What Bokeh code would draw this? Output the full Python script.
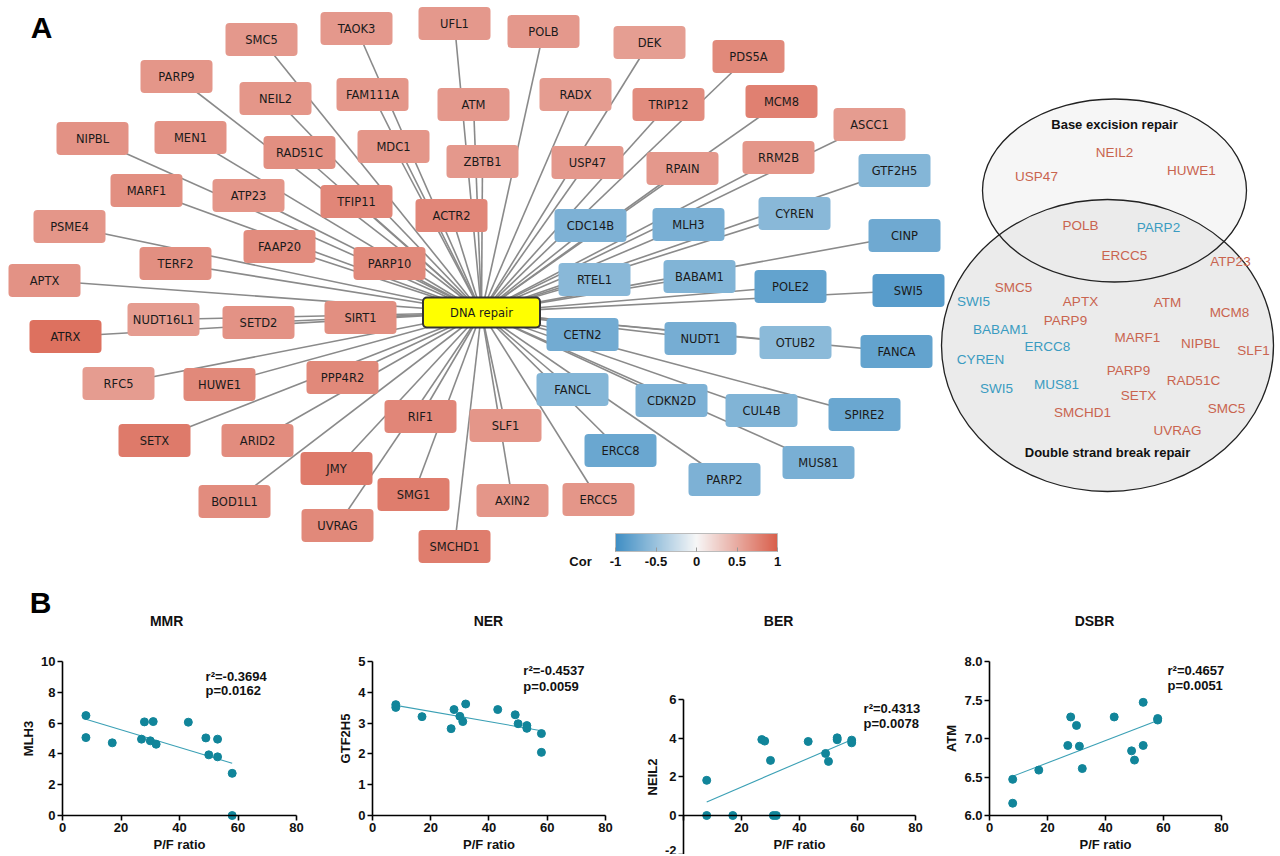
import numpy as np
from bokeh.plotting import figure
from bokeh.models import (ColumnDataSource, Range1d, LinearColorMapper, ColorBar,
                          FixedTicker, Label, CustomJSTickFormatter)
from bokeh.layouts import column, row
from bokeh.transform import transform
from bokeh.core.properties import value
from bokeh.embed import file_html
from bokeh.resources import INLINE

# ---------------- Panel A: network (layout positions, correlation) ----------------
node_names = ["SMC5", "TAOK3", "UFL1", "POLB", "DEK", "PDS5A", "PARP9", "NEIL2", "FAM111A", "ATM",
              "RADX", "TRIP12", "MCM8", "ASCC1", "NIPBL", "MEN1", "RAD51C", "MDC1", "ZBTB1", "USP47",
              "RPAIN", "RRM2B", "GTF2H5", "MARF1", "ATP23", "TFIP11", "ACTR2", "CDC14B", "MLH3", "CYREN",
              "PSME4", "FAAP20", "TERF2", "PARP10", "CINP", "APTX", "RTEL1", "BABAM1", "POLE2", "SWI5",
              "ATRX", "NUDT16L1", "SETD2", "SIRT1", "CETN2", "NUDT1", "OTUB2", "FANCA", "RFC5", "HUWE1",
              "PPP4R2", "FANCL", "CDKN2D", "CUL4B", "SPIRE2", "RIF1", "SLF1", "SETX", "ARID2", "ERCC8",
              "MUS81", "JMY", "PARP2", "SMG1", "AXIN2", "ERCC5", "BOD1L1", "UVRAG", "SMCHD1"]
node_x = [261, 356, 454, 543, 649, 748, 176, 275, 372, 473,
          575, 668, 781, 869, 92, 190, 299, 393, 482, 587,
          682, 778, 894, 146, 248, 356, 451, 590, 688, 794,
          69, 279, 175, 389, 904, 44, 594, 699, 790, 908,
          65, 163, 258, 360, 582, 700, 795, 896, 118, 219,
          342, 572, 671, 761, 864, 420, 505, 154, 257, 620,
          818, 336, 724, 413, 512, 598, 234, 337, 454]
node_y = [39, 28, 23, 31, 42, 56, 76, 98, 94, 104,
          94, 104, 101, 124, 138, 137, 152, 146, 161, 162,
          168, 157, 170, 190, 195, 201, 215, 225, 224, 213,
          226, 246, 263, 263, 235, 280, 279, 276, 286, 290,
          336, 319, 322, 317, 334, 338, 342, 351, 383, 384,
          377, 389, 400, 410, 414, 416, 425, 440, 440, 450,
          462, 468, 479, 494, 500, 499, 501, 525, 546]
node_cor = [0.62, 0.62, 0.62, 0.62, 0.58, 0.72, 0.64, 0.64, 0.64, 0.62,
            0.60, 0.70, 0.78, 0.60, 0.66, 0.66, 0.68, 0.64, 0.62, 0.62,
            0.62, 0.64, -0.62, 0.68, 0.64, 0.74, 0.74, -0.66, -0.68, -0.60,
            0.64, 0.70, 0.68, 0.72, -0.74, 0.66, -0.60, -0.64, -0.80, -0.86,
            0.88, 0.60, 0.66, 0.68, -0.72, -0.70, -0.58, -0.80, 0.60, 0.72,
            0.72, -0.62, -0.66, -0.64, -0.76, 0.74, 0.64, 0.82, 0.70, -0.76,
            -0.68, 0.82, -0.66, 0.80, 0.64, 0.64, 0.70, 0.72, 0.80]
hub_name = ["DNA repair"]
hub_x = [481]
hub_y = [312]

# Venn diagram
venn_sets = ["Base excision repair", "Double strand break repair"]
venn_cx = [1114, 1107]
venn_cy = [190, 345]
venn_w = [264, 332]
venn_h = [183, 292]
venn_title_y = [124, 452]
venn_genes = ["NEIL2", "USP47", "HUWE1", "POLB", "PARP2", "ERCC5", "ATP23", "SMC5", "SWI5", "APTX",
              "ATM", "MCM8", "BABAM1", "PARP9", "MARF1", "NIPBL", "SLF1", "ERCC8", "CYREN", "PARP9",
              "RAD51C", "SWI5", "MUS81", "SETX", "SMCHD1", "SMC5", "UVRAG"]
venn_gx = [1114, 1036, 1191, 1080, 1158, 1124, 1230, 1013, 973, 1080,
           1167, 1229, 1000, 1065, 1137, 1200, 1253, 1047, 980, 1128,
           1193, 996, 1056, 1138, 1082, 1226, 1177]
venn_gy = [152, 176, 170, 225, 227, 255, 261, 287, 301, 301,
           302, 312, 329, 320, 337, 343, 350, 346, 359, 370,
           380, 388, 384, 395, 412, 408, 430]
venn_sign = ["pos", "pos", "pos", "pos", "neg", "pos", "pos", "pos", "neg", "pos",
             "pos", "pos", "neg", "pos", "pos", "pos", "pos", "neg", "neg", "pos",
             "pos", "neg", "neg", "pos", "pos", "pos", "pos"]

cor_ticks = [-1, -0.5, 0, 0.5, 1]

# ---------------- Panel B: scatter data ----------------
pf_ratio = [8, 8, 17, 27, 28, 30, 31, 32, 43, 49, 50, 53, 53, 58, 58]
mlh3 = [6.49, 5.06, 4.72, 4.96, 6.08, 4.85, 6.10, 4.63, 6.06, 5.04, 3.94, 4.96, 3.81, 2.74, 0.0]
gtf2h5 = [3.60, 3.51, 3.21, 2.82, 3.44, 3.22, 3.05, 3.62, 3.44, 3.27, 2.98, 2.92, 2.83, 2.66, 2.05]
neil2 = [1.82, 0.0, 0.0, 3.93, 3.85, 2.85, 0.0, 0.0, 3.83, 3.21, 2.80, 4.02, 3.92, 3.90, 3.76]
atm = [6.47, 6.16, 6.59, 6.91, 7.28, 7.17, 6.90, 6.61, 7.28, 6.84, 6.72, 7.47, 6.91, 7.26, 7.24]
panel_titles = ["MMR", "NER", "BER", "DSBR"]
panel_genes = ["MLH3", "GTF2H5", "NEIL2", "ATM"]
r2_texts = ["r\u00b2=-0.3694", "r\u00b2=-0.4537", "r\u00b2=0.4313", "r\u00b2=0.4657"]
p_texts = ["p=0.0162", "p=0.0059", "p=0.0078", "p=0.0051"]
x_ticks = [0, 20, 40, 60, 80]
x_bounds = (0, 80)
y_ticks_list = [[0, 2, 4, 6, 8, 10], [0, 1, 2, 3, 4, 5], [-2, 0, 2, 4, 6], [6.0, 6.5, 7.0, 7.5, 8.0]]
y_bounds_list = [(0, 10), (0, 5), (-2, 6), (6.0, 8.0)]

# ---------------- styling / layout ----------------
FONT = "Liberation Sans"
PAGE_W = 1276
TOP_H = 580
BOT_H = 274


def hex2rgb(h):
    h = h.lstrip("#")
    return np.array([int(h[i:i + 2], 16) for i in (0, 2, 4)], dtype=float)


def diverging(lo, mid, hi, n=256):
    a, m, b = hex2rgb(lo), hex2rgb(mid), hex2rgb(hi)
    out = []
    for t in np.linspace(-1, 1, n):
        c = m + (a - m) * (-t) if t < 0 else m + (b - m) * t
        out.append("#%02x%02x%02x" % tuple(int(round(v)) for v in c))
    return out


palette = diverging("#3f8ec4", "#f7f7f7", "#d95f4b")
mapper = LinearColorMapper(palette=palette, low=-1, high=1)

pA = figure(width=PAGE_W, height=TOP_H, x_range=Range1d(0, PAGE_W), y_range=Range1d(TOP_H, 0),
            output_backend="svg", toolbar_location=None, min_border=0,
            x_axis_type=None, y_axis_type=None)
pA.grid.visible = False
pA.outline_line_color = None

nodes = ColumnDataSource(dict(name=node_names, x=node_x, y=node_y, cor=node_cor))
edges = ColumnDataSource(dict(x0=hub_x * len(node_x), y0=hub_y * len(node_y), x1=node_x, y1=node_y))
pA.segment("x0", "y0", "x1", "y1", source=edges, line_color="#8a8a8a", line_width=1.6)
pA.rect("x", "y", width=72, height=33, source=nodes, fill_color=transform("cor", mapper),
        line_color=None, border_radius=4)
pA.text("x", "y", text="name", source=nodes, text_align="center", text_baseline="middle",
        text_font=value("DejaVu Sans"), text_font_size="11.5px", text_color="#1a1a1a")
hub = ColumnDataSource(dict(name=hub_name, x=hub_x, y=hub_y))
pA.rect("x", "y", width=117, height=30, source=hub, fill_color="#ffff00", line_color="#333333",
        line_width=2, border_radius=4)
pA.text("x", "y", text="name", source=hub, text_align="center", text_baseline="middle",
        text_font=value("DejaVu Sans"), text_font_size="11.5px", text_color="#1a1a1a")

# Venn
vsrc = ColumnDataSource(dict(x=venn_cx, y=venn_cy, w=venn_w, h=venn_h, fill=["#f6f6f6", "#ebebeb"],
                             name=venn_sets, ty=venn_title_y))
pA.ellipse("x", "y", width="w", height="h", source=vsrc, fill_color="fill", line_color=None)
pA.ellipse("x", "y", width="w", height="h", source=vsrc, fill_alpha=0, line_color="#222222",
           line_width=1.3)
pA.text("x", "ty", text="name", source=vsrc, text_align="center", text_baseline="middle",
        text_font=value(FONT), text_font_size="13px", text_font_style="bold", text_color="#111111")
gcol = ["#c9644f" if s == "pos" else "#3a9bc1" for s in venn_sign]
gsrc = ColumnDataSource(dict(x=venn_gx, y=venn_gy, t=venn_genes, c=gcol))
pA.text("x", "y", text="t", source=gsrc, text_color="c", text_align="center", text_baseline="middle",
        text_font=value(FONT), text_font_size="13.5px")

cb = ColorBar(color_mapper=mapper, orientation="horizontal", location=(615, 12), width=162, height=18,
              padding=0, margin=0, ticker=FixedTicker(ticks=cor_ticks),
              formatter=CustomJSTickFormatter(code="return tick.toString()"),
              major_label_text_font=FONT, major_label_text_font_style="bold",
              major_label_text_font_size="13px", major_label_text_color="#111111",
              major_tick_line_color="#999999", major_tick_in=4, major_tick_out=0,
              bar_line_color="#bbbbbb", background_fill_alpha=0, border_line_color=None,
              label_standoff=5)
pA.add_layout(cb)
pA.add_layout(Label(x=580, y=561, text="Cor", text_align="center", text_baseline="middle",
                    text_font=FONT, text_font_size="13px", text_font_style="bold", text_color="#111111"))
pA.add_layout(Label(x=41, y=27, text="A", text_align="center", text_baseline="middle",
                    text_font=FONT, text_font_size="30px", text_font_style="bold", text_color="#000000"))

# ---------------- Panel B ----------------
yvals_list = [mlh3, gtf2h5, neil2, atm]
fig_w = [318, 310, 307, 341]
x_ranges = [(-21.2, 87.5), (-18.54, 87.9), (-18.97, 86.9), (-18.62, 98.97)]
y_ranges = [(-2.53, 15.26), (-1.266, 7.63), (-2.018, 12.16), (5.494, 9.052)]
x_axis_at = [0, 0, 0, 6.0]
title_pos = [(35.6, 12.66), (39.8, 6.33), (32.8, 10.09), (36.2, 8.53)]
label_pos = [(48.9, 9.0, 8.1), (51.8, 4.7, 4.2), (62.1, 5.55, 4.75), (61.4, 7.88, 7.69)]
panel_letter_pos = (-7.5, 13.83)
y_fmt = ["return tick.toString()", "return tick.toString()", "return tick.toString()",
         "return tick.toFixed(1)"]

figs = []
for i in range(4):
    f = figure(width=fig_w[i], height=BOT_H, x_range=Range1d(*x_ranges[i]), y_range=Range1d(*y_ranges[i]),
               output_backend="svg", toolbar_location=None, min_border=0)
    f.grid.visible = False
    f.outline_line_color = None
    f.xaxis.ticker = FixedTicker(ticks=x_ticks)
    f.yaxis.ticker = FixedTicker(ticks=y_ticks_list[i])
    f.xaxis.bounds = x_bounds
    f.yaxis.bounds = y_bounds_list[i]
    f.xaxis.fixed_location = x_axis_at[i]
    f.yaxis.fixed_location = 0
    f.xaxis.axis_label = "P/F ratio"
    f.yaxis.axis_label = panel_genes[i]
    f.yaxis.formatter = CustomJSTickFormatter(code=y_fmt[i])
    if i == 2:
        f.xaxis.formatter = CustomJSTickFormatter(code="return tick == 0 ? '' : tick.toString()")
    for ax in f.axis:
        ax.axis_line_color = "black"
        ax.axis_line_width = 1.6
        ax.major_tick_line_color = "black"
        ax.major_tick_line_width = 1.6
        ax.major_tick_out = 5
        ax.major_tick_in = 0
        ax.minor_tick_line_color = None
        ax.major_label_text_font = FONT
        ax.major_label_text_font_style = "bold"
        ax.major_label_text_font_size = "13px"
        ax.major_label_text_color = "#111111"
        ax.major_label_standoff = 2
        ax.axis_label_text_font = FONT
        ax.axis_label_text_font_style = "bold"
        ax.axis_label_text_font_size = "13px"
        ax.axis_label_text_color = "#111111"
        ax.axis_label_standoff = 2
    xs = np.array(pf_ratio, dtype=float)
    ys = np.array(yvals_list[i], dtype=float)
    m, b = np.polyfit(xs, ys, 1)
    xl = np.array([xs.min(), xs.max()])
    f.line(xl, m * xl + b, line_color="#3ba0b5", line_width=1.1)
    f.scatter(xs, ys, size=8, fill_color="#11859a", line_color="#11859a")
    tx, ty = title_pos[i]
    f.add_layout(Label(x=tx, y=ty, text=panel_titles[i], text_align="center", text_baseline="middle",
                       text_font=FONT, text_font_size="14px", text_font_style="bold", text_color="#111111"))
    lx, ly1, ly2 = label_pos[i]
    for txt, yy in ((r2_texts[i], ly1), (p_texts[i], ly2)):
        f.add_layout(Label(x=lx, y=yy, text=txt, text_align="left", text_baseline="middle",
                           text_font=FONT, text_font_size="13px", text_font_style="bold",
                           text_color="#111111"))
    if i == 0:
        f.add_layout(Label(x=panel_letter_pos[0], y=panel_letter_pos[1], text="B", text_align="center",
                           text_baseline="middle", text_font=FONT, text_font_size="30px",
                           text_font_style="bold", text_color="#000000"))
    figs.append(f)

layout = column(pA, row(*figs, spacing=0), spacing=0)
open("out.html", "w").write(file_html(layout, INLINE))
